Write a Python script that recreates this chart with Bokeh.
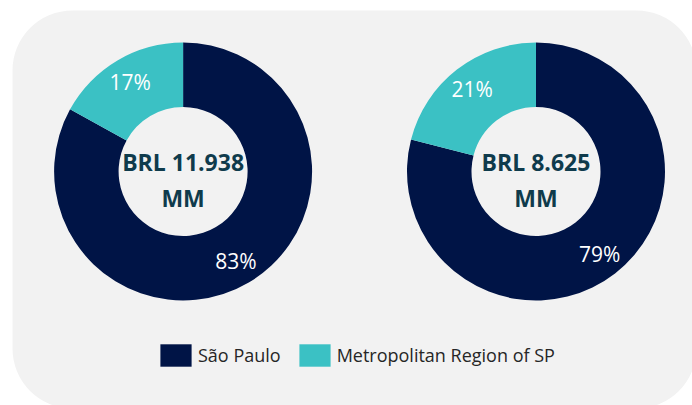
import math
from bokeh.plotting import figure
from bokeh.models import BoxAnnotation, Legend, LegendItem
from bokeh.core.properties import value
from bokeh.embed import file_html
from bokeh.resources import INLINE

# ---- data ----
categories = ["São Paulo", "Metropolitan Region of SP"]
left_shares = [83, 17]
right_shares = [79, 21]
center_labels = [["BRL 11.938", "MM"], ["BRL 8.625", "MM"]]
colors = ["#001446", "#3BC1C4"]

W, H = 692, 405
p = figure(width=W, height=H, x_range=(0, W), y_range=(0, H),
           output_backend="svg", toolbar_location=None, min_border=0,
           background_fill_color="white", border_fill_color="white")
p.axis.visible = False
p.grid.visible = False
p.outline_line_color = None

panel = BoxAnnotation(left=12, right=W + 4, top=H - 10, bottom=-3,
                      fill_color="#F2F2F2", fill_alpha=1, line_color=None,
                      border_radius=60, level="underlay")
p.add_layout(panel)

centers = [(182.6, H - 171), (535.5, H - 171)]
R_OUT, R_IN, R_LAB = 129, 64.5, 104

renderers_first = []
for idx, (shares, (cx, cy), clab) in enumerate(zip([left_shares, right_shares], centers, center_labels)):
    total = sum(shares)
    fr = [s / total for s in shares]
    # São Paulo runs clockwise from 12 o'clock, Metro anticlockwise from 12 o'clock
    starts = [math.pi / 2 - fr[0] * 2 * math.pi, math.pi / 2]
    ends = [math.pi / 2, math.pi / 2 + fr[1] * 2 * math.pi]
    rs = []
    for i in range(2):
        r = p.annular_wedge(x=cx, y=cy, inner_radius=R_IN, outer_radius=R_OUT,
                            start_angle=starts[i], end_angle=ends[i],
                            fill_color=colors[i], line_color=None)
        rs.append(r)
    if idx == 0:
        renderers_first = rs
    mids = [(s + e) / 2 for s, e in zip(starts, ends)]
    lx = [cx + R_LAB * math.cos(m) for m in mids]
    ly = [cy + R_LAB * math.sin(m) for m in mids]
    p.text(x=lx, y=ly, text=[f"{s}%" for s in shares], text_color="white",
           text_font=value("Open Sans"), text_font_size="21px",
           text_align="center", text_baseline="middle")
    p.text(x=[cx, cx], y=[cy + 10, cy - 26], text=clab, text_color="#0F3B4C",
           text_font=value("Open Sans"), text_font_style="bold",
           text_font_size="23px", text_align="center", text_baseline="middle")

legend = Legend(items=[LegendItem(label=categories[i], renderers=[renderers_first[i]]) for i in range(2)],
                orientation="horizontal", location=(156, 36),
                glyph_width=39, glyph_height=28, label_standoff=3, spacing=14,
                label_text_font="Open Sans", label_text_font_size="18px",
                label_text_color="#262626", padding=0, margin=0,
                border_line_alpha=0, background_fill_alpha=0)
p.add_layout(legend, "center")

open("out.html", "w").write(file_html(p, INLINE))
